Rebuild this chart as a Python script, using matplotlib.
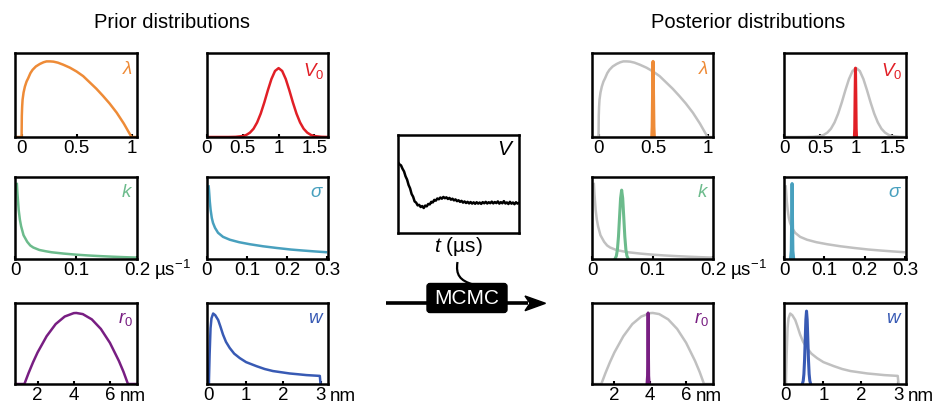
import matplotlib.pyplot as plt
from matplotlib.patches import FancyBboxPatch, Polygon, PathPatch
from matplotlib.path import Path

plt.rcParams["font.family"] = ["Liberation Sans", "DejaVu Sans"]
plt.rcParams["mathtext.fontset"] = "custom"
plt.rcParams["mathtext.rm"] = "Liberation Sans"
plt.rcParams["mathtext.it"] = "Liberation Sans:italic"
plt.rcParams["mathtext.bf"] = "Liberation Sans:bold"

# prior densities (scaled to panel height)
lam_x = [-0.06, 0.0, 0.002, 0.005, 0.009, 0.018, 0.03, 0.045, 0.06, 0.08, 0.1, 0.13,
         0.167, 0.2, 0.227, 0.26, 0.29, 0.33, 0.38, 0.44, 0.5, 0.56, 0.62, 0.68,
         0.74, 0.8, 0.865, 0.93, 1.0, 1.05]
lam_y = [0, 0, 0.25, 0.36, 0.445, 0.53, 0.60, 0.66, 0.70, 0.76, 0.80, 0.84,
         0.87, 0.89, 0.90, 0.90, 0.897, 0.885, 0.86, 0.825, 0.78, 0.725, 0.65, 0.575,
         0.49, 0.40, 0.29, 0.16, 0, 0]

v0_x = [0, 0.3, 0.4, 0.5, 0.55, 0.6, 0.65, 0.7, 0.75, 0.8, 0.85, 0.9, 0.95, 1.0,
        1.05, 1.1, 1.15, 1.2, 1.25, 1.3, 1.35, 1.4, 1.45, 1.5, 1.6, 1.7]
v0_y = [0, 0, 0.002, 0.011, 0.025, 0.052, 0.098, 0.173, 0.278, 0.41, 0.556, 0.69, 0.786, 0.82,
        0.786, 0.69, 0.556, 0.41, 0.278, 0.173, 0.098, 0.052, 0.025, 0.011, 0.002, 0]

kap_x = [0.003, 0.004, 0.006, 0.008, 0.01, 0.014, 0.02, 0.025, 0.03, 0.04, 0.05, 0.06,
         0.08, 0.1, 0.12, 0.14, 0.16, 0.18, 0.2]
kap_y = [0.93, 0.80, 0.60, 0.48, 0.40, 0.29, 0.21, 0.165, 0.14, 0.11, 0.095, 0.082,
         0.066, 0.053, 0.043, 0.035, 0.028, 0.022, 0.017]

sig_x = [0.004, 0.005, 0.007, 0.009, 0.012, 0.015, 0.02, 0.0275, 0.04, 0.057, 0.08,
         0.107, 0.14, 0.173, 0.21, 0.24, 0.27, 0.3]
sig_y = [0.90, 0.84, 0.70, 0.60, 0.50, 0.44, 0.38, 0.32, 0.27, 0.235, 0.205,
         0.18, 0.155, 0.135, 0.115, 0.103, 0.092, 0.082]

r0_x = [0.75, 1.27, 1.5, 1.75, 2.0, 2.5, 3.0, 3.5, 4.0, 4.14, 4.5, 5.0, 5.5, 6.0,
        6.5, 6.75, 7.0, 7.5]
r0_y = [0, 0, 0.135, 0.269, 0.39, 0.59, 0.74, 0.833, 0.875, 0.877, 0.863, 0.798, 0.68, 0.509,
        0.284, 0.152, 0, 0]

w_x = [0, 0.02, 0.045, 0.07, 0.115, 0.17, 0.25, 0.31, 0.38, 0.46, 0.56, 0.68, 0.83,
       1.0, 1.28, 1.5, 1.72, 2.17, 2.4, 2.62, 2.98, 3.0]
w_y = [0, 0.36, 0.69, 0.81, 0.87, 0.85, 0.79, 0.71, 0.61, 0.52, 0.445, 0.375, 0.32,
       0.27, 0.22, 0.185, 0.16, 0.13, 0.12, 0.11, 0.10, 0]

# posterior densities (narrow peaks)
lam_post_x = [0.488, 0.492, 0.496, 0.5, 0.504, 0.508, 0.512]
lam_post_y = [0, 0.12, 0.55, 0.90, 0.55, 0.12, 0]
v0_post_x = [0.975, 0.98, 0.985, 0.99, 0.995, 1.0, 1.005]
v0_post_y = [0, 0.1, 0.5, 0.82, 0.5, 0.1, 0]
kap_post_x = [0.0385, 0.04025, 0.042, 0.04375, 0.0455, 0.04725, 0.049, 0.05075,
              0.0525, 0.05425, 0.056, 0.05775, 0.0595]
kap_post_y = [0.009, 0.037, 0.114, 0.273, 0.509, 0.741, 0.84, 0.741, 0.509, 0.273,
              0.114, 0.037, 0.009]
sig_post_x = [0.016, 0.018, 0.019, 0.02, 0.021, 0.022, 0.024]
sig_post_y = [0, 0.1, 0.5, 0.92, 0.5, 0.1, 0]
r0_post_x = [3.82, 3.85, 3.87, 3.88, 3.89, 3.91, 3.94]
r0_post_y = [0, 0.1, 0.55, 0.877, 0.55, 0.1, 0]
w_post_x = [0.445, 0.4625, 0.48, 0.4975, 0.515, 0.5325, 0.55, 0.5675, 0.585, 0.6025,
            0.62, 0.6375, 0.655]
w_post_y = [0.010, 0.040, 0.122, 0.292, 0.546, 0.794, 0.90, 0.794, 0.546, 0.292,
            0.122, 0.040, 0.010]

# measured dipolar trace V(t)
trace_v = [0.722, 0.700, 0.690, 0.655, 0.628, 0.578, 0.545, 0.490, 0.455, 0.398,
           0.370, 0.322, 0.310, 0.282, 0.287, 0.265, 0.275, 0.255, 0.280, 0.272,
           0.296, 0.292, 0.318, 0.312, 0.338, 0.330, 0.352, 0.344, 0.362, 0.350,
           0.368, 0.355, 0.364, 0.347, 0.358, 0.340, 0.350, 0.333, 0.343, 0.325,
           0.334, 0.318, 0.328, 0.310, 0.322, 0.306, 0.318, 0.302, 0.316, 0.300,
           0.313, 0.298, 0.314, 0.300, 0.311, 0.297, 0.315, 0.303, 0.318, 0.301,
           0.314, 0.304, 0.320, 0.302, 0.316, 0.305, 0.322, 0.300, 0.315, 0.303,
           0.325, 0.301, 0.312, 0.296, 0.318, 0.299, 0.311, 0.294, 0.314, 0.300,
           0.308]

GREY = "#C0C0C0"
panels = [
    dict(label=r"$\lambda$", color="#EE8B37", x=lam_x, y=lam_y, px=lam_post_x, py=lam_post_y,
         xlim=(-0.06, 1.05), ticks=[0, 0.5, 1], tl=["0", "0.5", "1"], unit=None),
    dict(label=r"$V_0$", color="#E11F26", x=v0_x, y=v0_y, px=v0_post_x, py=v0_post_y,
         xlim=(0, 1.69), ticks=[0, 0.5, 1, 1.5], tl=["0", "0.5", "1", "1.5"], unit=None),
    dict(label=r"$k$", color="#6CBB8C", x=kap_x, y=kap_y, px=kap_post_x, py=kap_post_y,
         xlim=(0, 0.2), ticks=[0, 0.1, 0.2], tl=["0", "0.1", "0.2"],
         unit=(r"µs$^{-1}$", 12.5)),
    dict(label=r"$\sigma$", color="#48A0BE", x=sig_x, y=sig_y, px=sig_post_x, py=sig_post_y,
         xlim=(0, 0.302), ticks=[0, 0.1, 0.2, 0.3], tl=["0", "0.1", "0.2", "0.3"], unit=None),
    dict(label=r"$r_0$", color="#781E82", x=r0_x, y=r0_y, px=r0_post_x, py=r0_post_y,
         xlim=(0.75, 7.5), ticks=[2, 4, 6], tl=["2", "4", "6"], unit=("nm", 7.0)),
    dict(label=r"$w$", color="#385AB4", x=w_x, y=w_y, px=w_post_x, py=w_post_y,
         xlim=(-0.05, 3.2), ticks=[0, 1, 2, 3], tl=["0", "1", "2", "3"], unit=("nm", 7.0)),
]

W, H = 941, 407
fig = plt.figure(figsize=(W / 100, H / 100), dpi=100)


def add_box(x0, y0, x1, y1):
    ax = fig.add_axes([x0 / W, 1 - y1 / H, (x1 - x0) / W, (y1 - y0) / H])
    for s in ax.spines.values():
        s.set_linewidth(1.8)
    ax.set_yticks([])
    ax.set_ylim(0, 1)
    ax.tick_params(axis="x", direction="in", length=2.5, width=1.5, pad=2.5, labelsize=13.5)
    return ax


cols_prior = [(15, 137), (207, 328)]
cols_post = [(592, 713), (784, 906)]
rows = [(53, 137), (177, 259), (303, 384)]

for i, p in enumerate(panels):
    r, c = divmod(i, 2)
    for posterior, cols in ((False, cols_prior), (True, cols_post)):
        ax = add_box(cols[c][0], rows[r][0], cols[c][1], rows[r][1])
        if posterior:
            ax.plot(p["x"], p["y"], color=GREY, lw=1.8, solid_capstyle="butt")
            ax.plot(p["px"], p["py"], color=p["color"], lw=2.2)
        else:
            ax.plot(p["x"], p["y"], color=p["color"], lw=1.8, solid_capstyle="butt")
        ax.set_xlim(*p["xlim"])
        ax.set_xticks(p["ticks"], p["tl"])
        ax.text(0.97, 0.91, p["label"], transform=ax.transAxes, ha="right", va="top",
                color=p["color"], fontsize=13.5)
        if p["unit"] is not None:
            txt, dx = p["unit"]
            ax.annotate(txt, xy=(p["ticks"][-1], 0), xycoords=("data", "axes fraction"),
                        xytext=(dx, -12.5), textcoords="offset points",
                        ha="left", va="baseline", fontsize=13.5)

# measured trace
axv = add_box(398, 135, 519, 233)
axv.set_xticks([])
axv.plot(trace_v, color="black", lw=1.8)
axv.set_xlim(0, len(trace_v) - 1)
axv.text(0.96, 0.95, r"$V$", transform=axv.transAxes, ha="right", va="top", fontsize=15)
fig.text(458 / W, 1 - 247 / H, r"$t$ (µs)", ha="center", va="center", fontsize=15)

# overlay for the MCMC diagram, in pixel units
ov = fig.add_axes([0, 0, 1, 1], zorder=-1)
ov.set_xlim(0, W)
ov.set_ylim(H, 0)
ov.axis("off")

ov.plot([386, 528], [303.3, 303.3], color="black", lw=2.6, solid_capstyle="butt")
ov.add_patch(Polygon([(545.5, 303.3), (525, 296), (530, 303.3), (525, 310.7)],
                     closed=True, color="black"))
ov.add_patch(FancyBboxPatch((427, 283.5), 80, 29, boxstyle="round,pad=0,rounding_size=3",
                            fc="black", ec="black"))
ov.text(467, 298.5, "MCMC", color="white", ha="center", va="center", fontsize=15)

hook = Path([(457.5, 262), (455.5, 275), (460, 280.5), (473, 284.5)],
            [Path.MOVETO, Path.CURVE4, Path.CURVE4, Path.CURVE4])
ov.add_patch(PathPatch(hook, fc="none", ec="black", lw=1.6))

fig.text(171.5 / W, 1 - 22 / H, "Prior distributions", ha="center", va="center", fontsize=14.5)
fig.text(748 / W, 1 - 22 / H, "Posterior distributions", ha="center", va="center", fontsize=14.5)

fig.savefig("out.png", dpi=100)
